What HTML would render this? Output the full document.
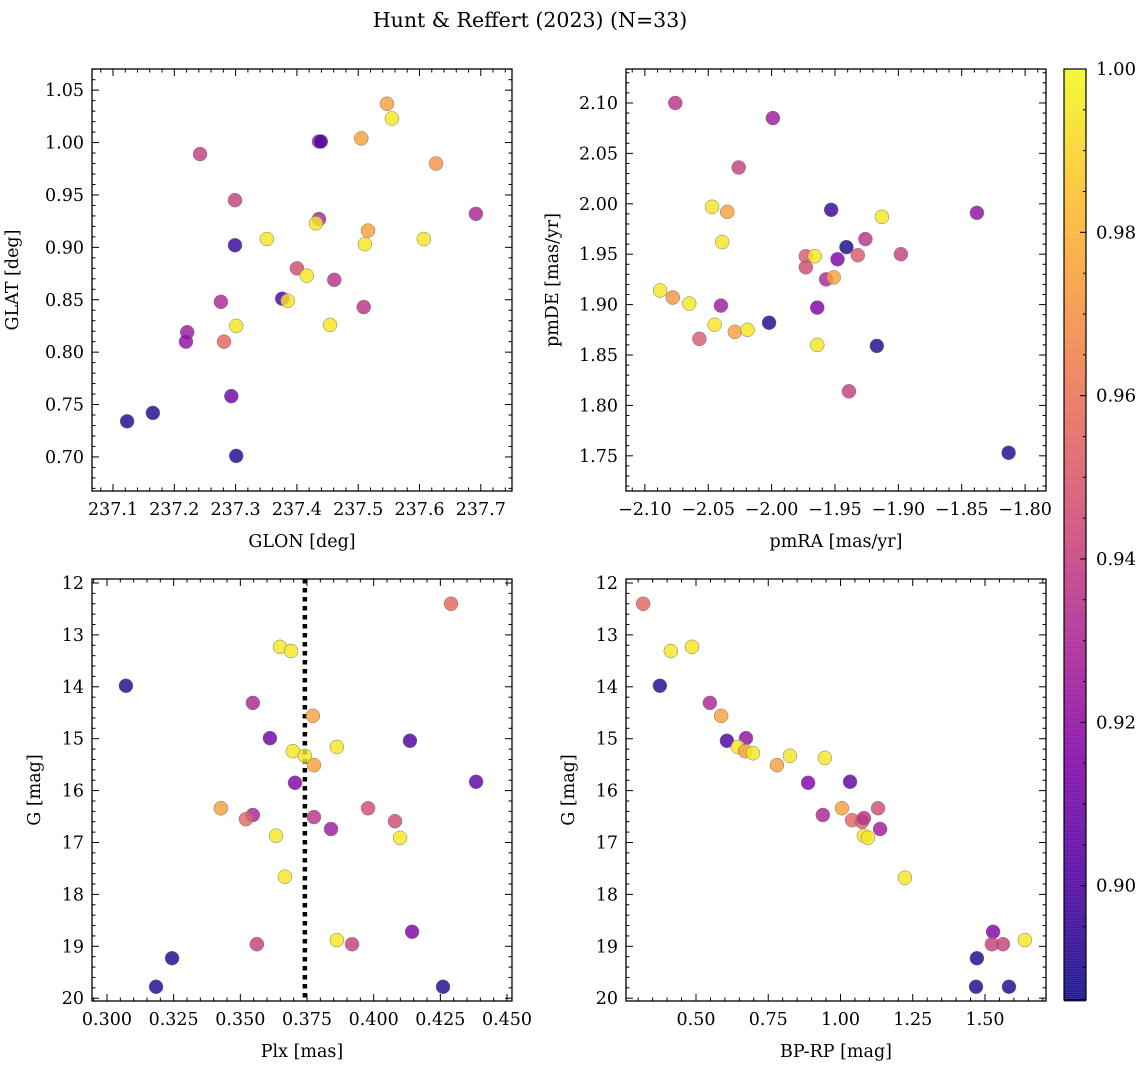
<!DOCTYPE html>
<html><head><meta charset="utf-8"><style>
body{margin:0;background:#fff}
text{font-family:"DejaVu Serif","Liberation Serif",serif;fill:#000}
</style></head><body>
<svg id="fig" xmlns="http://www.w3.org/2000/svg" width="1148" height="1068" viewBox="0 0 1148 1068">
<rect width="1148" height="1068" fill="#fff"/>
<text x="530" y="27" font-size="20.5" text-anchor="middle">Hunt &amp; Reffert (2023) (N=33)</text>
</svg>
<script>
const glon=[237.123,237.165,237.242,237.221,237.219,237.276,237.281,237.299,237.299,237.293,237.301,237.301,237.351,237.376,237.385,237.400,237.416,237.436,237.439,237.436,237.431,237.461,237.454,237.505,237.509,237.547,237.555,237.516,237.511,237.607,237.627,237.692];
const glat=[0.734,0.742,0.989,0.819,0.810,0.848,0.810,0.945,0.902,0.758,0.701,0.825,0.908,0.851,0.849,0.880,0.873,1.001,1.001,0.927,0.923,0.869,0.826,1.004,0.843,1.037,1.023,0.916,0.903,0.908,0.980,0.932];
const probA=[0.89,0.89,0.94,0.925,0.92,0.93,0.955,0.94,0.895,0.91,0.89,0.995,0.995,0.90,0.995,0.945,0.995,0.925,0.90,0.93,0.995,0.935,0.995,0.975,0.935,0.975,0.995,0.975,0.995,0.995,0.97,0.93];
const pmra=[-2.076,-1.999,-2.026,-2.047,-2.035,-2.039,-1.953,-1.913,-1.838,-1.941,-1.926,-1.973,-1.966,-1.948,-1.932,-1.898,-1.973,-1.957,-1.951,-2.088,-2.078,-2.065,-2.040,-2.045,-1.964,-2.002,-2.029,-2.019,-2.057,-1.964,-1.917,-1.939,-1.813];
const pmde=[2.100,2.085,2.036,1.997,1.992,1.962,1.994,1.987,1.991,1.957,1.965,1.948,1.948,1.945,1.949,1.950,1.937,1.925,1.927,1.914,1.907,1.901,1.899,1.880,1.897,1.882,1.873,1.875,1.866,1.860,1.859,1.814,1.753];
const probB=[0.935,0.925,0.94,0.995,0.975,0.995,0.895,0.995,0.92,0.89,0.935,0.95,0.995,0.915,0.95,0.94,0.945,0.93,0.975,0.995,0.97,0.995,0.925,0.995,0.915,0.89,0.975,0.995,0.95,0.995,0.89,0.94,0.89];
const plx=[0.3071,0.3184,0.3244,0.4290,0.3649,0.3690,0.3547,0.3611,0.3772,0.3697,0.3742,0.3862,0.3776,0.3705,0.4136,0.4384,0.3427,0.3547,0.3521,0.3776,0.3840,0.3979,0.4080,0.4099,0.3634,0.3667,0.3562,0.3862,0.3919,0.4144,0.4260];
const gmagC=[13.98,19.78,19.23,12.40,13.23,13.31,14.31,14.99,14.56,15.24,15.33,15.16,15.51,15.85,15.04,15.83,16.34,16.47,16.55,16.51,16.74,16.34,16.59,16.91,16.87,17.66,18.96,18.88,18.96,18.72,19.78];
const probC=[0.89,0.89,0.89,0.955,0.995,0.995,0.93,0.91,0.975,0.995,0.995,0.995,0.975,0.915,0.90,0.905,0.975,0.93,0.955,0.935,0.925,0.945,0.945,0.995,0.995,0.995,0.94,0.995,0.94,0.915,0.89];
const bprp=[0.317,0.413,0.486,0.375,0.548,0.587,0.607,0.673,0.645,0.670,0.697,0.825,0.946,0.780,0.888,1.033,0.939,1.005,1.130,1.040,1.074,1.081,1.137,1.081,1.095,1.223,1.528,1.524,1.562,1.638,1.472,1.469,1.583];
const gmagD=[12.40,13.31,13.23,13.98,14.31,14.56,15.04,14.99,15.16,15.24,15.28,15.33,15.37,15.51,15.85,15.83,16.47,16.34,16.34,16.57,16.60,16.53,16.74,16.87,16.91,17.68,18.72,18.96,18.96,18.88,19.23,19.78,19.78];
const probD=[0.955,0.995,0.995,0.89,0.93,0.975,0.90,0.92,0.995,0.975,0.995,0.995,0.995,0.975,0.915,0.905,0.93,0.975,0.945,0.955,0.95,0.935,0.925,0.995,0.995,0.995,0.915,0.94,0.94,0.995,0.89,0.89,0.89];
const plxMedian=0.3742;
const cmin=0.886,cmax=1.0;
const NS="http://www.w3.org/2000/svg",svg=document.getElementById('fig');
const stops=["#0d0887","#4c02a1","#7e03a8","#a82296","#cc4778","#e56b5d","#f89540","#fdc328","#f0f921"];
function hex(h){return [1,3,5].map(i=>parseInt(h.substr(i,2),16));}
function plasma(t){t=Math.max(0,Math.min(1,t));const s=t*8,i=Math.min(7,Math.floor(s)),f=s-i;const a=hex(stops[i]),b=hex(stops[i+1]);return 'rgb('+a.map((v,k)=>Math.round(v+(b[k]-v)*f)).join(',')+')';}
function el(tag,at,parent){const e=document.createElementNS(NS,tag);for(const k in at)e.setAttribute(k,at[k]);(parent||svg).appendChild(e);return e;}
function fmt(v,d){return v.toFixed(d).replace('-','\u2212');}
const FS=17.5;
function panel(o){
 const g=el('g',{});
 
 
 const X=v=>o.x0+(v-o.xr[0])/(o.xr[1]-o.xr[0])*(o.x1-o.x0);
 const Y=o.yinv?v=>o.y0+(v-o.yr[0])/(o.yr[1]-o.yr[0])*(o.y1-o.y0):v=>o.y1-(v-o.yr[0])/(o.yr[1]-o.yr[0])*(o.y1-o.y0);
 if(o.vline!==undefined){const l=el('line',{x1:X(o.vline),x2:X(o.vline),y1:o.y0,y2:o.y1,stroke:'#000','stroke-width':4.5,'stroke-dasharray':'4.5 4.5'},g);
  
  }
 for(let i=0;i<o.xs.length;i++){const c=el('circle',{cx:X(o.xs[i]),cy:Y(o.ys[i]),r:7,fill:plasma((o.c[i]-cmin)/(cmax-cmin)),'fill-opacity':0.82,stroke:'#777','stroke-width':0.5},g);
  
  }
 const fr=el('rect',{x:o.x0,y:o.y0,width:o.x1-o.x0,height:o.y1-o.y0,fill:'none',stroke:'#000','stroke-width':1.3},g);
 
 
 const eps=1e-9;
 for(let v=Math.ceil(o.xr[0]/o.xmin-eps)*o.xmin;v<=o.xr[1]+eps;v+=o.xmin){const p=X(v);const maj=Math.abs(v/o.xmaj-Math.round(v/o.xmaj))<1e-6;const L=maj?7:3.5;
  el('line',{x1:p,x2:p,y1:o.y1,y2:o.y1-L,stroke:'#000','stroke-width':1},g);el('line',{x1:p,x2:p,y1:o.y0,y2:o.y0+L,stroke:'#000','stroke-width':1},g);
  if(maj){const t=el('text',{x:p,y:o.y1+24,'font-size':FS,'text-anchor':'middle'},g);t.textContent=fmt(Math.round(v/o.xmaj)*o.xmaj,o.xd);}}
 for(let v=Math.ceil(o.yr[0]/o.ymin-eps)*o.ymin;v<=o.yr[1]+eps;v+=o.ymin){const p=Y(v);const maj=Math.abs(v/o.ymaj-Math.round(v/o.ymaj))<1e-6;const L=maj?7:3.5;
  el('line',{x1:o.x0,x2:o.x0+L,y1:p,y2:p,stroke:'#000','stroke-width':1},g);el('line',{x1:o.x1,x2:o.x1-L,y1:p,y2:p,stroke:'#000','stroke-width':1},g);
  if(maj){const t=el('text',{x:o.x0-8,y:p+6,'font-size':FS,'text-anchor':'end'},g);t.textContent=fmt(Math.round(v/o.ymaj)*o.ymaj,o.yd);}}
 const xl=el('text',{x:(o.x0+o.x1)/2,y:o.y1+56,'font-size':FS,'text-anchor':'middle'},g);xl.textContent=o.xlab;
 
 
 const yx=o.x0-o.ylo,yy=(o.y0+o.y1)/2;const yl=el('text',{x:yx,y:yy,'font-size':FS,'text-anchor':'middle',transform:`rotate(-90 ${yx} ${yy})`},g);yl.textContent=o.ylab;
 
 
}
panel({name:'glon-glat-panel',x0:92,x1:512,y0:69,y1:491,xr:[237.0657,237.7509],yr:[0.6675,1.0702],xs:glon,ys:glat,c:probA,xmaj:0.1,xmin:0.02,xd:1,ymaj:0.05,ymin:0.01,yd:2,xlab:'GLON [deg]',ylab:'GLAT [deg]',ylo:74});
panel({name:'proper-motion-panel',x0:626,x1:1046,y0:69,y1:491,xr:[-2.1149,-1.7835],yr:[1.7151,2.1337],xs:pmra,ys:pmde,c:probB,xmaj:0.05,xmin:0.01,xd:2,ymaj:0.05,ymin:0.01,yd:2,xlab:'pmRA [mas/yr]',ylab:'pmDE [mas/yr]',ylo:68});
panel({name:'parallax-magnitude-panel',x0:92,x1:512,y0:579,y1:1001,xr:[0.29438,0.45187],yr:[11.923,20.054],yinv:true,xs:plx,ys:gmagC,c:probC,xmaj:0.025,xmin:0.005,xd:3,ymaj:1,ymin:0.2,yd:0,xlab:'Plx [mas]',ylab:'G [mag]',ylo:52,vline:plxMedian});
panel({name:'cmd-panel',x0:626,x1:1046,y0:579,y1:1001,xr:[0.2578,1.7111],yr:[11.923,20.054],yinv:true,xs:bprp,ys:gmagD,c:probD,xmaj:0.25,xmin:0.05,xd:2,ymaj:1,ymin:0.2,yd:0,xlab:'BP-RP [mag]',ylab:'G [mag]',ylo:52});
const cb=el('g',{});


const cx0=1064,cx1=1086,cy0=69,cy1=1000;
const CY=v=>cy0+(cmax-v)/(cmax-cmin)*(cy1-cy0);
for(let y=cy0;y<cy1;y+=2){const v=cmax-(y-cy0+1)/(cy1-cy0)*(cmax-cmin);el('rect',{x:cx0,y:y,width:cx1-cx0,height:2.5,fill:plasma((v-cmin)/(cmax-cmin)),'fill-opacity':0.85},cb);}
el('rect',{x:cx0,y:cy0,width:cx1-cx0,height:cy1-cy0,fill:'none',stroke:'#000','stroke-width':1.2},cb);
const cbTicks=[0.90,0.92,0.94,0.96,0.98,1.00];
for(let v=0.89;v<=1.0001;v+=0.005){const p=CY(v);const maj=Math.abs(v*50-Math.round(v*50))<1e-6;el('line',{x1:cx1,x2:cx1-(maj?6:3),y1:p,y2:p,stroke:'#000'},cb);}
cbTicks.forEach(v=>{const t=el('text',{x:cx1+10,y:CY(v)+6,'font-size':18},cb);t.textContent=v.toFixed(2);
 
 });
</script>
</body></html>
